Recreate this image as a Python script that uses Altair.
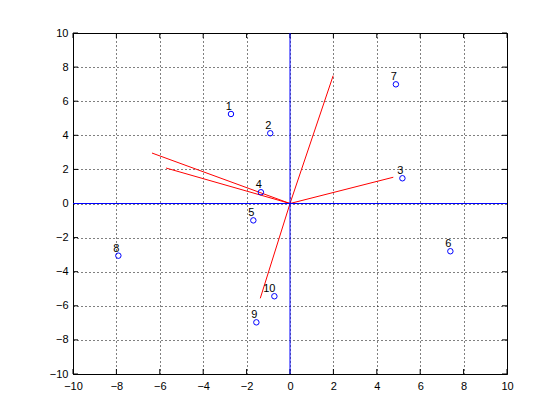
import altair as alt
import pandas as pd

# Observations (scores)
point_x = [-2.72, -0.91, 5.18, -1.34, -1.69, 7.39, 4.88, -7.91, -1.55, -0.72]
point_y = [5.25, 4.12, 1.48, 0.66, -0.99, -2.80, 6.99, -3.06, -6.97, -5.44]
point_labels = ["1", "2", "3", "4", "5", "6", "7", "8", "9", "10"]

# Variable vectors (loadings)
vector_x = [1.99, 4.76, -6.36, -5.71, -1.37]
vector_y = [7.50, 1.54, 2.96, 2.08, -5.56]

tick_values = [-10, -8, -6, -4, -2, 0, 2, 4, 6, 8, 10]

W, H = 434, 341
TICK = 5

pts = pd.DataFrame({"x": point_x, "y": point_y, "label": point_labels})
vecs = pd.DataFrame({"x": vector_x, "y": vector_y,
                     "x0": [0] * len(vector_x), "y0": [0] * len(vector_y)})
ticks = pd.DataFrame({"t": tick_values})
zero_df = pd.DataFrame({"z": [0]})

font = "Liberation Sans"
xscale = alt.Scale(domain=[-10, 10], nice=False, zero=False)
yscale = alt.Scale(domain=[-10, 10], nice=False, zero=False)

xaxis = alt.Axis(values=tick_values, tickCount=len(tick_values), labelPadding=6, title=None)
yaxis = alt.Axis(values=tick_values, tickCount=len(tick_values), labelPadding=5, title=None)

base = alt.Chart(pts).mark_point(opacity=0).encode(
    x=alt.X("x:Q", scale=xscale, axis=xaxis),
    y=alt.Y("y:Q", scale=yscale, axis=yaxis),
)

vec_layer = alt.Chart(vecs).mark_rule(color="red", strokeWidth=1).encode(
    x=alt.X("x0:Q", scale=xscale), y=alt.Y("y0:Q", scale=yscale),
    x2="x:Q", y2="y:Q",
)

hline = alt.Chart(zero_df).mark_rule(color="#0000ff", strokeWidth=1).encode(
    y=alt.Y("z:Q", scale=yscale), x=alt.value(0), x2=alt.value(W))
vline = alt.Chart(zero_df).mark_rule(color="#0000ff", strokeWidth=1).encode(
    x=alt.X("z:Q", scale=xscale), y=alt.value(0), y2=alt.value(H))

circles = alt.Chart(pts).mark_point(shape="circle", filled=False, color="#0000ff",
                                    size=30, strokeWidth=1, opacity=1).encode(
    x=alt.X("x:Q", scale=xscale), y=alt.Y("y:Q", scale=yscale))

texts = alt.Chart(pts).mark_text(align="right", baseline="bottom", dx=1, dy=-2,
                                 font=font, fontSize=11, color="black").encode(
    x=alt.X("x:Q", scale=xscale), y=alt.Y("y:Q", scale=yscale), text="label:N")

tick_bottom = alt.Chart(ticks).mark_rule(color="black").encode(
    x=alt.X("t:Q", scale=xscale), y=alt.value(H), y2=alt.value(H - TICK))
tick_top = alt.Chart(ticks).mark_rule(color="black").encode(
    x=alt.X("t:Q", scale=xscale), y=alt.value(0), y2=alt.value(TICK))
tick_left = alt.Chart(ticks).mark_rule(color="black").encode(
    y=alt.Y("t:Q", scale=yscale), x=alt.value(0), x2=alt.value(TICK))
tick_right = alt.Chart(ticks).mark_rule(color="black").encode(
    y=alt.Y("t:Q", scale=yscale), x=alt.value(W), x2=alt.value(W - TICK))

chart = alt.layer(
    base, tick_bottom, tick_top, tick_left, tick_right,
    vec_layer, circles, texts, hline, vline
).properties(
    width=W, height=H,
    autosize=alt.AutoSizeParams(type="none"),
    padding={"left": 65, "top": 25, "right": 30, "bottom": 30},
    background="white",
).configure_view(
    stroke="black", strokeWidth=1
).configure_axis(
    tickSize=0, domain=False, grid=True,
    gridColor="black", gridDash=[1, 3], gridOpacity=1, gridWidth=1,
    labelFont=font, labelFontSize=11, labelColor="black",
    labelFlush=False, labelOverlap=False, labelBound=False,
)

chart.save("out.html", embed_options={"renderer": "svg", "actions": False})
